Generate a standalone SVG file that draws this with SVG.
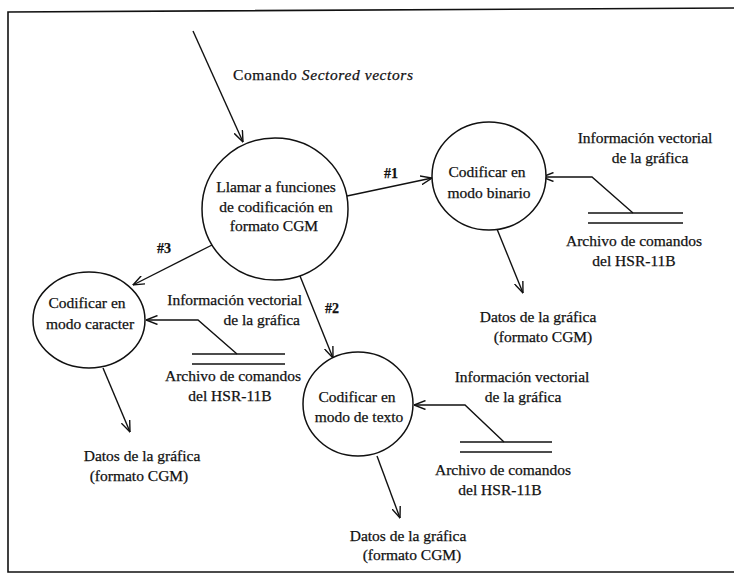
<svg xmlns="http://www.w3.org/2000/svg" width="734" height="578" viewBox="0 0 734 578">
  <defs>
    <style>
      .bg { fill: #ffffff; }
      .frame { fill: none; stroke: #111; stroke-width: 1.6; }
      .proc { fill: #ffffff; stroke: #111; stroke-width: 1.5; }
      .flow { fill: none; stroke: #111; stroke-width: 1.4; }
      .store { fill: none; stroke: #111; stroke-width: 1.5; }
      text { font-family: "Liberation Serif", "Times New Roman", serif; font-size: 15.5px; fill: #111; stroke: #111; stroke-width: 0.25; }
      .c { text-anchor: middle; }
      .e { text-anchor: end; }
      .it { font-style: italic; }
      .num { font-weight: bold; font-size: 14px; }
    </style>
    <marker id="open" viewBox="0 0 12 10" refX="11.5" refY="5" markerWidth="12" markerHeight="10" markerUnits="userSpaceOnUse" orient="auto">
      <path d="M0,0.5 L11.5,5 L0,9.5" fill="none" stroke="#111" stroke-width="1.4"/>
    </marker>
  </defs>

  <rect class="bg" x="0" y="0" width="734" height="578"/>

  <!-- outer frame (open on the right) -->
  <path class="frame" d="M740,8 L8,12 L8,572 L740,572"/>

  <!-- connectors -->
  <g id="connectors">
    <!-- command entering the dispatcher -->
    <line class="flow" x1="193" y1="31" x2="243" y2="142" marker-end="url(#open)"/>
    <!-- #1 binary -->
    <line class="flow" x1="347" y1="196" x2="432" y2="178" marker-end="url(#open)"/>
    <!-- #3 character -->
    <line class="flow" x1="212" y1="245" x2="133" y2="285" marker-end="url(#open)"/>
    <!-- #2 text -->
    <line class="flow" x1="300" y1="276" x2="333" y2="358" marker-end="url(#open)"/>

    <!-- command file -> binary -->
    <polyline class="flow" points="633,213 592,177 542,177" marker-end="url(#open)"/>
    <!-- command file -> character -->
    <polyline class="flow" points="237,354 198,320 146,320" marker-end="url(#open)"/>
    <!-- command file -> text -->
    <polyline class="flow" points="504,442 465,405 414,405" marker-end="url(#open)"/>

    <!-- encoded outputs -->
    <line class="flow" x1="497" y1="229" x2="523" y2="293" marker-end="url(#open)"/>
    <line class="flow" x1="103" y1="368" x2="130" y2="432" marker-end="url(#open)"/>
    <line class="flow" x1="377" y1="456" x2="400" y2="518" marker-end="url(#open)"/>
  </g>

  <!-- flow labels -->
  <g id="flow-labels">
    <text x="233" y="80" textLength="180" lengthAdjust="spacing">Comando <tspan class="it">Sectored vectors</tspan></text>
    <text class="num" x="384" y="178">#1</text>
    <text class="num" x="157" y="253">#3</text>
    <text class="num" x="325" y="313">#2</text>

    <text class="c" x="645" y="143">Información vectorial</text>
    <text class="c" x="650" y="163">de la gráfica</text>
    <text class="e" x="302" y="305">Información vectorial</text>
    <text class="e" x="300" y="325">de la gráfica</text>
    <text class="c" x="522" y="382">Información vectorial</text>
    <text class="c" x="523" y="402">de la gráfica</text>

    <text class="c" x="538" y="322">Datos de la gráfica</text>
    <text class="c" x="543" y="342">(formato CGM)</text>
    <text class="c" x="142" y="461">Datos de la gráfica</text>
    <text class="c" x="139" y="481">(formato CGM)</text>
    <text class="c" x="408" y="541">Datos de la gráfica</text>
    <text class="c" x="412" y="560">(formato CGM)</text>
  </g>

  <!-- processes -->
  <g id="dispatch">
    <ellipse class="proc" cx="275" cy="209" rx="73" ry="71"/>
    <text class="c" x="276" y="192">Llamar a funciones</text>
    <text class="c" x="276" y="212">de codificación en</text>
    <text class="c" x="274" y="231">formato CGM</text>
  </g>

  <g id="binario">
    <ellipse class="proc" cx="489" cy="176" rx="57" ry="54"/>
    <text class="c" x="487" y="177">Codificar en</text>
    <text class="c" x="489" y="198">modo binario</text>
  </g>

  <g id="caracter">
    <ellipse class="proc" cx="89" cy="320" rx="56" ry="48"/>
    <text class="c" x="87" y="308">Codificar en</text>
    <text class="c" x="90" y="329">modo caracter</text>
  </g>

  <g id="texto">
    <ellipse class="proc" cx="358" cy="404" rx="55" ry="52"/>
    <text class="c" x="357" y="402">Codificar en</text>
    <text class="c" x="359" y="422">modo de texto</text>
  </g>

  <!-- data stores -->
  <g id="store-binario">
    <line class="store" x1="588" y1="213" x2="683" y2="213"/>
    <line class="store" x1="588" y1="223" x2="683" y2="223"/>
    <text class="c" x="634" y="246">Archivo de comandos</text>
    <text class="c" x="634" y="266">del HSR-11B</text>
  </g>

  <g id="store-caracter">
    <line class="store" x1="192" y1="354" x2="285" y2="354"/>
    <line class="store" x1="192" y1="364" x2="285" y2="364"/>
    <text class="c" x="233" y="381">Archivo de comandos</text>
    <text class="c" x="230" y="401">del HSR-11B</text>
  </g>

  <g id="store-texto">
    <line class="store" x1="460" y1="442" x2="552" y2="442"/>
    <line class="store" x1="460" y1="452" x2="552" y2="452"/>
    <text class="c" x="503" y="475">Archivo de comandos</text>
    <text class="c" x="500" y="495">del HSR-11B</text>
  </g>
</svg>
